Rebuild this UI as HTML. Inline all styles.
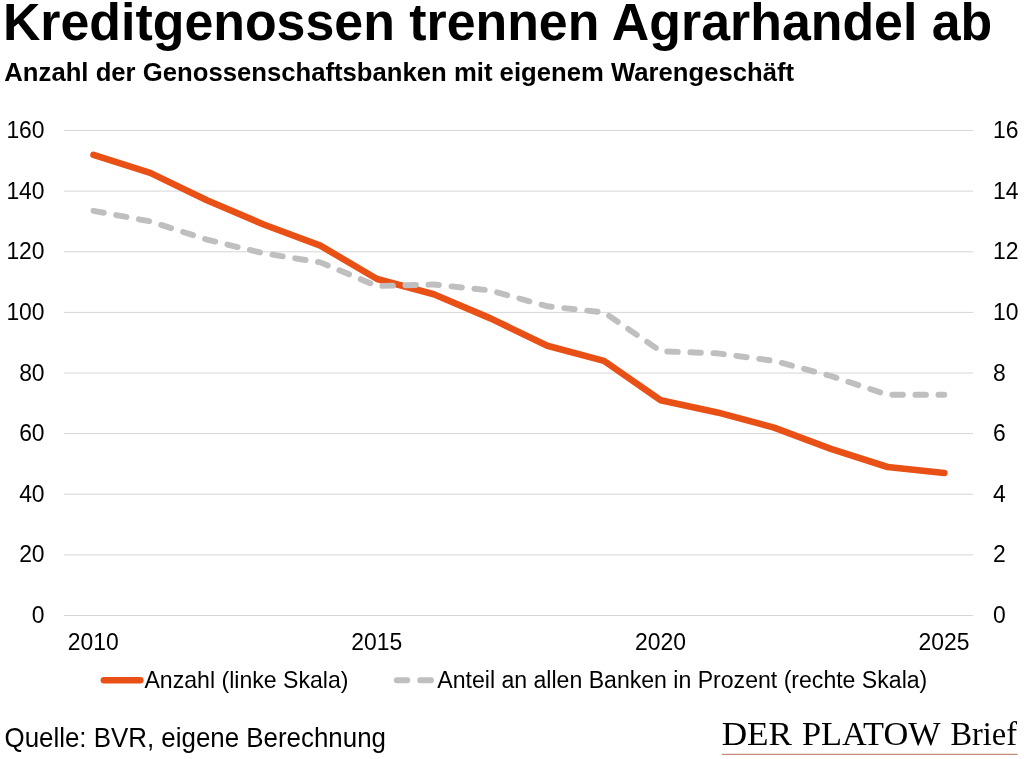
<!DOCTYPE html>
<html lang="de"><head><meta charset="utf-8"><title>Kreditgenossen trennen Agrarhandel ab</title>
<style>
html,body{margin:0;padding:0;background:#fff;}
body{width:1024px;height:759px;overflow:hidden;position:relative;font-family:"Liberation Sans",sans-serif;color:#000;}
svg{position:absolute;left:0;top:0;}
text{font-family:"Liberation Sans",sans-serif;fill:#000;}
.logo text{font-family:"Liberation Serif",serif;}
</style></head><body>
<svg width="1024" height="759" viewBox="0 0 1024 759">
<text transform="translate(2.90,40.10) scale(1,1.015)" font-size="51.86" font-weight="bold">Kreditgenossen trennen Agrarhandel ab</text>

<text transform="translate(4.30,80.80) scale(1,1.005)" font-size="25.7" font-weight="bold">Anzahl der Genossenschaftsbanken mit eigenem Warengeschäft</text>

<g stroke="#d6d6d6" stroke-width="1"><line x1="64.0" x2="973.0" y1="615.5" y2="615.5"/><line x1="64.0" x2="973.0" y1="554.9" y2="554.9"/><line x1="64.0" x2="973.0" y1="494.2" y2="494.2"/><line x1="64.0" x2="973.0" y1="433.6" y2="433.6"/><line x1="64.0" x2="973.0" y1="373.0" y2="373.0"/><line x1="64.0" x2="973.0" y1="312.4" y2="312.4"/><line x1="64.0" x2="973.0" y1="251.8" y2="251.8"/><line x1="64.0" x2="973.0" y1="191.1" y2="191.1"/><line x1="64.0" x2="973.0" y1="130.5" y2="130.5"/></g>
<g class="ax">
<text transform="translate(44.60,623.10) scale(1,1.04)" font-size="22.9" text-anchor="end">0</text>
<text transform="translate(44.60,562.48) scale(1,1.04)" font-size="22.9" text-anchor="end">20</text>
<text transform="translate(44.60,501.85) scale(1,1.04)" font-size="22.9" text-anchor="end">40</text>
<text transform="translate(44.60,441.23) scale(1,1.04)" font-size="22.9" text-anchor="end">60</text>
<text transform="translate(44.60,380.60) scale(1,1.04)" font-size="22.9" text-anchor="end">80</text>
<text transform="translate(44.60,319.98) scale(1,1.04)" font-size="22.9" text-anchor="end">100</text>
<text transform="translate(44.60,259.35) scale(1,1.04)" font-size="22.9" text-anchor="end">120</text>
<text transform="translate(44.60,198.72) scale(1,1.04)" font-size="22.9" text-anchor="end">140</text>
<text transform="translate(44.60,138.10) scale(1,1.04)" font-size="22.9" text-anchor="end">160</text>
<text transform="translate(992.90,623.10) scale(1,1.04)" font-size="22.9">0</text>
<text transform="translate(992.90,562.48) scale(1,1.04)" font-size="22.9">2</text>
<text transform="translate(992.90,501.85) scale(1,1.04)" font-size="22.9">4</text>
<text transform="translate(992.90,441.23) scale(1,1.04)" font-size="22.9">6</text>
<text transform="translate(992.90,380.60) scale(1,1.04)" font-size="22.9">8</text>
<text transform="translate(992.90,319.98) scale(1,1.04)" font-size="22.9">10</text>
<text transform="translate(992.90,259.35) scale(1,1.04)" font-size="22.9">12</text>
<text transform="translate(992.90,198.72) scale(1,1.04)" font-size="22.9">14</text>
<text transform="translate(992.90,138.10) scale(1,1.04)" font-size="22.9">16</text>
<text transform="translate(93.20,649.80) scale(1,1.04)" font-size="22.9" text-anchor="middle">2010</text>
<text transform="translate(376.80,649.80) scale(1,1.04)" font-size="22.9" text-anchor="middle">2015</text>
<text transform="translate(660.40,649.80) scale(1,1.04)" font-size="22.9" text-anchor="middle">2020</text>
<text transform="translate(944.00,649.80) scale(1,1.04)" font-size="22.9" text-anchor="middle">2025</text>
</g>
<polyline points="93.5,154.8 150.2,172.9 206.9,200.2 263.7,224.5 320.4,245.7 377.1,279.0 433.8,294.2 490.5,318.4 547.3,345.7 604.0,360.9 660.7,400.3 717.4,412.4 774.1,427.6 830.9,448.8 887.6,467.0 944.3,473.0" fill="none" stroke="#e95016" stroke-width="6.6" stroke-linecap="round" stroke-linejoin="round"/>
<polyline points="93.5,210.8 150.2,221.4 206.9,239.6 263.7,253.3 320.4,262.4 377.1,286.0 433.8,284.5 490.5,290.5 547.3,306.3 604.0,312.4 660.7,351.2 717.4,353.3 774.1,360.9 830.9,376.0 887.6,394.8 944.3,394.8" fill="none" stroke="#bfbfbf" stroke-width="5.9" stroke-linecap="round" stroke-linejoin="round" stroke-dasharray="10.5,12.560"/>
<line x1="103.9" x2="140.3" y1="680.2" y2="680.2" stroke="#e95016" stroke-width="6.6" stroke-linecap="round"/>
<text transform="translate(144.40,687.50) scale(1.009,1.04)" font-size="22.9">Anzahl (linke Skala)</text>

<path d="M396.8,680.2H407.3M420.2,680.2H431" stroke="#bfbfbf" stroke-width="5.9" stroke-linecap="round" fill="none"/>
<text transform="translate(437.30,687.50) scale(1.0085,1.04)" font-size="22.9">Anteil an allen Banken in Prozent (rechte Skala)</text>

<text transform="translate(4.50,747.10) scale(1.004,1.04)" font-size="25.8">Quelle: BVR, eigene Berechnung</text>

<g class="logo">
<text transform="translate(721.70,745.10) scale(1,1)" font-size="34.3" textLength="70.4" lengthAdjust="spacingAndGlyphs">DER</text>

<text transform="translate(802.00,745.10) scale(1,1)" font-size="34.3" textLength="138.6" lengthAdjust="spacingAndGlyphs">PLATOW</text>

<text transform="translate(950.40,745.10) scale(1,1)" font-size="34.3" textLength="66.6" lengthAdjust="spacingAndGlyphs">Brief</text>

</g>
<line x1="722" x2="1017.6" y1="754.4" y2="754.4" stroke="#c68e78" stroke-width="1.1"/>
</svg>
</body></html>
